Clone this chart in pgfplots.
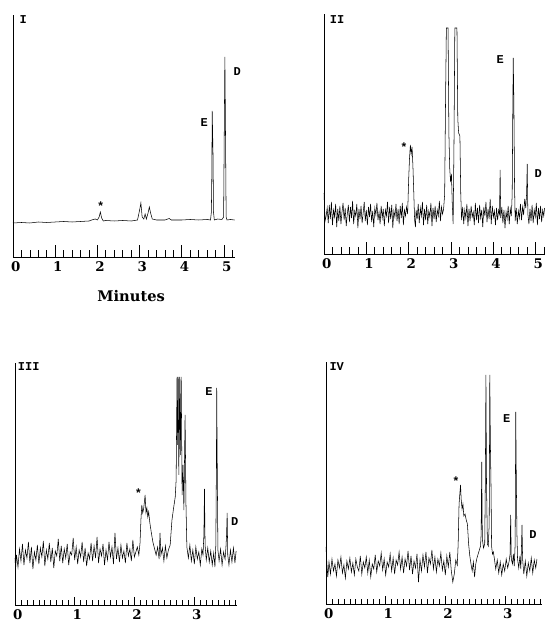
\documentclass[border=0pt]{standalone}
\usepackage{fontspec}
\setmainfont{DejaVu Serif}
\newfontfamily\tw{Liberation Mono}
\usepackage{pgfplots}
\pgfplotsset{compat=1.18}

% one chromatogram panel; y is in "pixels above the time axis"
\pgfplotsset{chrom/.style={
  scale only axis, clip=false,
  axis x line=bottom, axis y line=left,
  axis line style={-, line width=0.7pt},
  xmin=0, ymin=0, ymax=242, ytick=\empty,
  tick align=inside,
  tick style={black, line width=0.55pt},
  /pgf/number format/assume math mode=true,
  xticklabel style={font=\fontsize{10}{12}\selectfont\bfseries, xshift=2pt},
  cycle list={{black, line width=0.7pt, mark=none}},
}}
\newcommand\pk[1]{{\tw\bfseries\fontsize{9}{10}\selectfont #1}}

\begin{document}
\begin{tikzpicture}
\path[use as bounding box] (0,0) rectangle (409.5pt,468pt);

% ---------- I ----------
\begin{axis}[chrom, at={(9.75pt,275.25pt)}, anchor=south west,
  width=166.5pt, height=181.5pt, xmax=5.26,
  xtick={0,...,5}, minor xtick={0,0.2,...,5.2},
  major tick length=9pt, minor tick length=5pt]
\addplot coordinates {
(0,34)(0.2,34.5)(0.4,34)(0.6,35)(0.8,34.5)(1.0,35)(1.2,35.5)(1.4,35)(1.6,35.5)
(1.8,36)(1.9,37.5)(1.95,38)(2.0,37)(2.04,40)(2.07,45)(2.10,39)(2.14,36)(2.2,36.5)
(2.4,36)(2.6,36.5)(2.8,36)(2.95,37)(3.0,47)(3.03,54)(3.06,40)(3.1,38)(3.13,43)
(3.16,38)(3.2,44)(3.23,50)(3.26,44)(3.3,38)(3.4,37)(3.6,37)(3.7,38.5)(3.75,37)
(4.0,37)(4.2,37.5)(4.4,37)(4.6,37.5)(4.68,37)(4.70,45)(4.71,80)(4.72,146)(4.73,124)
(4.74,100)(4.75,45)(4.77,37)(4.85,38)(4.95,37.5)(4.99,40)(5.01,150)(5.02,200)
(5.03,150)(5.05,40)(5.07,37)(5.15,37.5)(5.25,37)};
\node at (axis cs:0.24,237) {\pk{I}};
\node at (axis cs:2.08,51) {\pk{*}};
\node at (axis cs:4.53,134) {\pk{E}};
\node at (axis cs:5.31,185) {\pk{D}};
\node at (axis cs:2.8,-39) {\fontsize{11}{13}\selectfont\bfseries Minutes};
\end{axis}

% ---------- II ----------
\begin{axis}[chrom, at={(243pt,277.5pt)}, anchor=south west,
  width=165.75pt, height=180pt, xmax=5.22, ymax=240,
  xtick={0,...,5}, minor xtick={0,0.2,...,5.2},
  major tick length=9pt, minor tick length=5pt]
\addplot coordinates {
(0.000,61)(0.010,50)(0.025,33)
(0.050,38)(0.075,46)(0.100,31)(0.125,49)(0.150,35)(0.175,52)(0.200,29)(0.225,44)(0.250,37)(0.275,50)
(0.300,27)(0.325,45)(0.350,33)(0.375,48)(0.400,30)(0.425,42)(0.450,51)(0.475,34)(0.500,46)(0.525,28)
(0.550,40)(0.575,49)(0.600,32)(0.625,47)(0.650,36)(0.675,53)(0.700,30)(0.725,43)(0.750,38)(0.775,50)
(0.800,26)(0.825,45)(0.850,35)(0.875,48)(0.900,31)(0.925,41)(0.950,52)(0.975,33)(1.000,44)(1.025,29)
(1.050,47)(1.075,37)(1.100,50)(1.125,32)(1.150,43)(1.175,27)(1.200,46)(1.225,39)(1.250,51)(1.275,34)
(1.300,42)(1.325,30)(1.350,48)(1.375,36)(1.400,45)(1.425,28)(1.450,44)(1.475,38)(1.500,52)(1.525,31)
(1.550,47)(1.575,35)(1.600,49)(1.625,26)(1.650,43)(1.675,37)(1.700,50)(1.725,33)(1.750,45)(1.775,30)
(1.800,48)(1.825,36)(1.850,51)(1.875,29)(1.900,44)(1.925,38)(1.950,47)(1.975,40)
(2.000,75)(2.020,96)(2.040,109)(2.060,100)(2.080,107)(2.100,88)(2.120,62)(2.140,34)(2.160,27)
(2.175,44)(2.200,35)(2.225,50)(2.250,31)(2.275,46)(2.300,38)(2.325,52)(2.350,29)(2.375,45)(2.400,34)
(2.425,49)(2.450,30)(2.475,43)(2.500,37)(2.525,51)(2.550,28)(2.575,46)(2.600,35)(2.625,48)(2.650,32)
(2.675,44)(2.700,38)(2.725,53)(2.750,33)(2.775,47)(2.800,40)(2.825,45)
(2.850,60)(2.870,150)(2.890,226)(2.930,226)(2.950,120)(2.970,85)(2.990,72)(3.010,80)(3.030,50)
(3.050,30)(3.070,110)(3.090,226)(3.140,226)(3.160,135)(3.180,121)(3.210,118)(3.230,60)(3.250,34)
(3.275,47)(3.300,30)(3.325,44)(3.350,36)(3.375,50)(3.400,28)(3.425,45)(3.450,33)(3.475,48)(3.500,37)
(3.525,42)(3.550,29)(3.575,51)(3.600,34)(3.625,46)(3.650,31)(3.675,49)(3.700,36)(3.725,44)(3.750,27)
(3.775,47)(3.800,38)(3.825,52)(3.850,32)(3.875,45)(3.900,35)(3.925,55)(3.950,30)(3.975,48)(4.000,37)
(4.025,43)(4.050,29)(4.075,46)(4.100,34)(4.125,44)
(4.145,40)(4.160,84)(4.175,36)
(4.200,47)(4.225,31)(4.250,44)(4.275,26)(4.300,42)(4.325,35)(4.350,48)(4.375,30)(4.400,45)(4.425,38)
(4.445,60)(4.460,150)(4.470,196)(4.485,150)(4.500,70)(4.515,33)
(4.540,46)(4.565,30)(4.590,43)(4.615,36)(4.640,50)(4.665,34)(4.690,47)(4.715,39)(4.740,55)(4.765,46)
(4.785,60)(4.800,90)(4.815,40)
(4.840,30)(4.865,45)(4.890,33)(4.915,49)(4.940,31)(4.965,44)(4.990,37)(5.015,51)(5.040,29)(5.065,46)
(5.090,35)(5.115,48)(5.140,32)(5.165,44)(5.190,38)(5.210,46)};
\node at (axis cs:0.31,234) {\pk{II}};
\node at (axis cs:1.89,107) {\pk{*}};
\node at (axis cs:4.16,194) {\pk{E}};
\node at (axis cs:5.06,80) {\pk{D}};
\end{axis}

% ---------- III ----------
\begin{axis}[chrom, at={(11.25pt,14.25pt)}, anchor=south west,
  width=166.5pt, height=181.5pt, xmax=3.72,
  xtick={0,...,3}, minor xtick={0,0.1,...,3.7},
  major tick length=6pt, minor tick length=3.75pt]
\addplot coordinates {
(0.000,47)(0.010,36)
(0.025,50)(0.050,38)(0.075,56)(0.100,44)(0.125,61)(0.150,40)(0.175,55)(0.200,47)(0.225,63)(0.250,42)
(0.275,58)(0.300,36)(0.325,53)(0.350,45)(0.375,60)(0.400,41)(0.425,57)(0.450,48)(0.475,64)(0.500,39)
(0.525,55)(0.550,46)(0.575,62)(0.600,43)(0.625,57)(0.650,37)(0.675,54)(0.700,49)(0.725,66)(0.750,44)
(0.775,59)(0.800,42)(0.825,56)(0.850,47)(0.875,61)(0.900,40)(0.925,53)(0.950,50)(0.975,67)(1.000,45)
(1.025,58)(1.050,41)(1.075,55)(1.100,48)(1.125,63)(1.150,43)(1.175,57)(1.200,39)(1.225,52)(1.250,46)
(1.275,62)(1.300,44)(1.325,59)(1.350,47)(1.375,68)(1.400,42)(1.425,56)(1.450,49)(1.475,61)(1.500,40)
(1.525,55)(1.550,45)(1.575,63)(1.600,48)(1.625,58)(1.650,41)(1.675,72)(1.700,46)(1.725,57)(1.750,43)
(1.775,60)(1.800,47)(1.825,54)(1.850,42)(1.875,62)(1.900,49)(1.925,56)(1.950,44)(1.975,65)(2.000,48)
(2.025,53)(2.050,58)(2.075,50)
(2.095,62)(2.110,85)(2.125,100)(2.140,92)(2.155,96)(2.170,104)(2.180,110)(2.195,92)(2.210,97)
(2.225,88)(2.240,93)(2.260,82)(2.285,72)(2.310,63)(2.340,56)(2.365,50)
(2.390,58)(2.415,46)(2.430,72)(2.445,50)(2.470,57)(2.495,44)(2.520,59)(2.545,47)(2.570,55)(2.600,60)
(2.630,85)(2.660,98)(2.685,108)(2.700,125)(2.715,228)(2.725,160)(2.735,228)(2.745,130)(2.760,228)
(2.770,150)(2.785,228)(2.800,110)(2.815,140)(2.830,95)(2.850,190)(2.865,100)(2.880,58)
(2.905,47)(2.930,60)(2.955,44)(2.980,55)(3.005,41)(3.030,58)(3.055,46)(3.080,53)(3.105,40)(3.130,56)(3.150,50)
(3.165,70)(3.175,116)(3.185,60)
(3.205,45)(3.230,57)(3.255,43)(3.280,54)(3.305,40)(3.330,52)(3.350,38)
(3.365,60)(3.375,140)(3.380,217)(3.390,130)(3.400,55)
(3.420,44)(3.445,56)(3.470,40)(3.495,53)(3.520,46)(3.535,58)
(3.545,70)(3.555,92)(3.565,50)
(3.585,40)(3.610,55)(3.635,43)(3.660,57)(3.685,42)(3.705,54)};
\node at (axis cs:0.23,238) {\pk{III}};
\node at (axis cs:2.07,112) {\pk{*}};
\node at (axis cs:3.25,213) {\pk{E}};
\node at (axis cs:3.68,83) {\pk{D}};
\end{axis}

% ---------- IV ----------
\begin{axis}[chrom, at={(244.5pt,15pt)}, anchor=south west,
  width=162pt, height=181.5pt, xmax=3.62,
  xtick={0,...,3}, minor xtick={0,0.1,...,3.6},
  major tick length=6pt, minor tick length=3.75pt]
\addplot coordinates {
(0.000,57)(0.015,40)(0.030,27)
(0.050,42)(0.075,30)(0.100,45)(0.125,33)(0.150,40)(0.175,28)(0.200,44)(0.225,36)(0.250,47)(0.275,31)
(0.300,39)(0.325,26)(0.350,43)(0.375,35)(0.400,46)(0.425,32)(0.450,41)(0.475,29)(0.500,45)(0.525,37)
(0.550,33)(0.575,48)(0.600,30)(0.625,42)(0.650,36)(0.675,47)(0.700,31)(0.725,44)(0.750,27)(0.775,40)
(0.800,35)(0.825,49)(0.850,32)(0.875,43)(0.900,38)(0.925,51)(0.950,34)(0.975,45)(1.000,29)(1.025,42)
(1.050,37)(1.075,50)(1.100,33)(1.125,46)(1.150,30)(1.175,44)(1.200,39)(1.225,52)(1.250,35)(1.275,47)
(1.300,31)(1.325,45)(1.350,38)(1.375,53)(1.400,34)(1.425,48)(1.450,30)(1.475,43)(1.500,36)(1.525,50)
(1.550,22)(1.575,44)(1.600,33)(1.625,49)(1.650,37)(1.675,52)(1.700,31)(1.725,46)(1.750,40)(1.775,54)
(1.800,35)(1.825,47)(1.850,32)(1.875,45)(1.900,38)(1.925,51)(1.950,34)(1.975,43)(2.000,29)(2.025,48)
(2.050,37)(2.075,52)(2.100,33)(2.125,22)(2.150,30)(2.175,44)(2.200,39)
(2.215,60)(2.230,100)(2.245,112)(2.255,119)(2.265,105)(2.280,95)(2.295,100)(2.310,88)(2.330,90)
(2.350,84)(2.370,80)(2.390,60)(2.410,48)(2.430,40)(2.450,33)(2.470,42)(2.490,27)(2.510,40)(2.530,46)
(2.550,50)(2.570,54)(2.590,58)
(2.600,70)(2.610,142)(2.620,65)(2.640,56)(2.660,60)
(2.670,120)(2.680,229)(2.690,120)(2.705,60)(2.720,58)(2.735,80)(2.745,229)(2.755,160)(2.765,120)
(2.775,58)(2.790,50)(2.805,52)(2.820,46)
(2.845,35)(2.870,44)(2.895,31)(2.920,42)(2.945,29)(2.970,40)(2.995,33)(3.020,45)(3.045,36)(3.070,43)
(3.085,50)(3.095,89)(3.105,45)
(3.125,40)(3.140,50)(3.155,38)
(3.170,60)(3.180,192)(3.190,120)(3.200,70)(3.210,45)
(3.230,36)(3.250,48)(3.265,35)
(3.275,55)(3.285,79)(3.295,45)
(3.315,30)(3.340,43)(3.365,28)(3.390,41)(3.415,33)(3.440,46)(3.465,31)(3.490,44)(3.515,36)(3.535,45)};
\node at (axis cs:0.18,237) {\pk{IV}};
\node at (axis cs:2.18,123) {\pk{*}};
\node at (axis cs:3.03,185) {\pk{E}};
\node at (axis cs:3.47,69) {\pk{D}};
\end{axis}
\end{tikzpicture}
\end{document}
